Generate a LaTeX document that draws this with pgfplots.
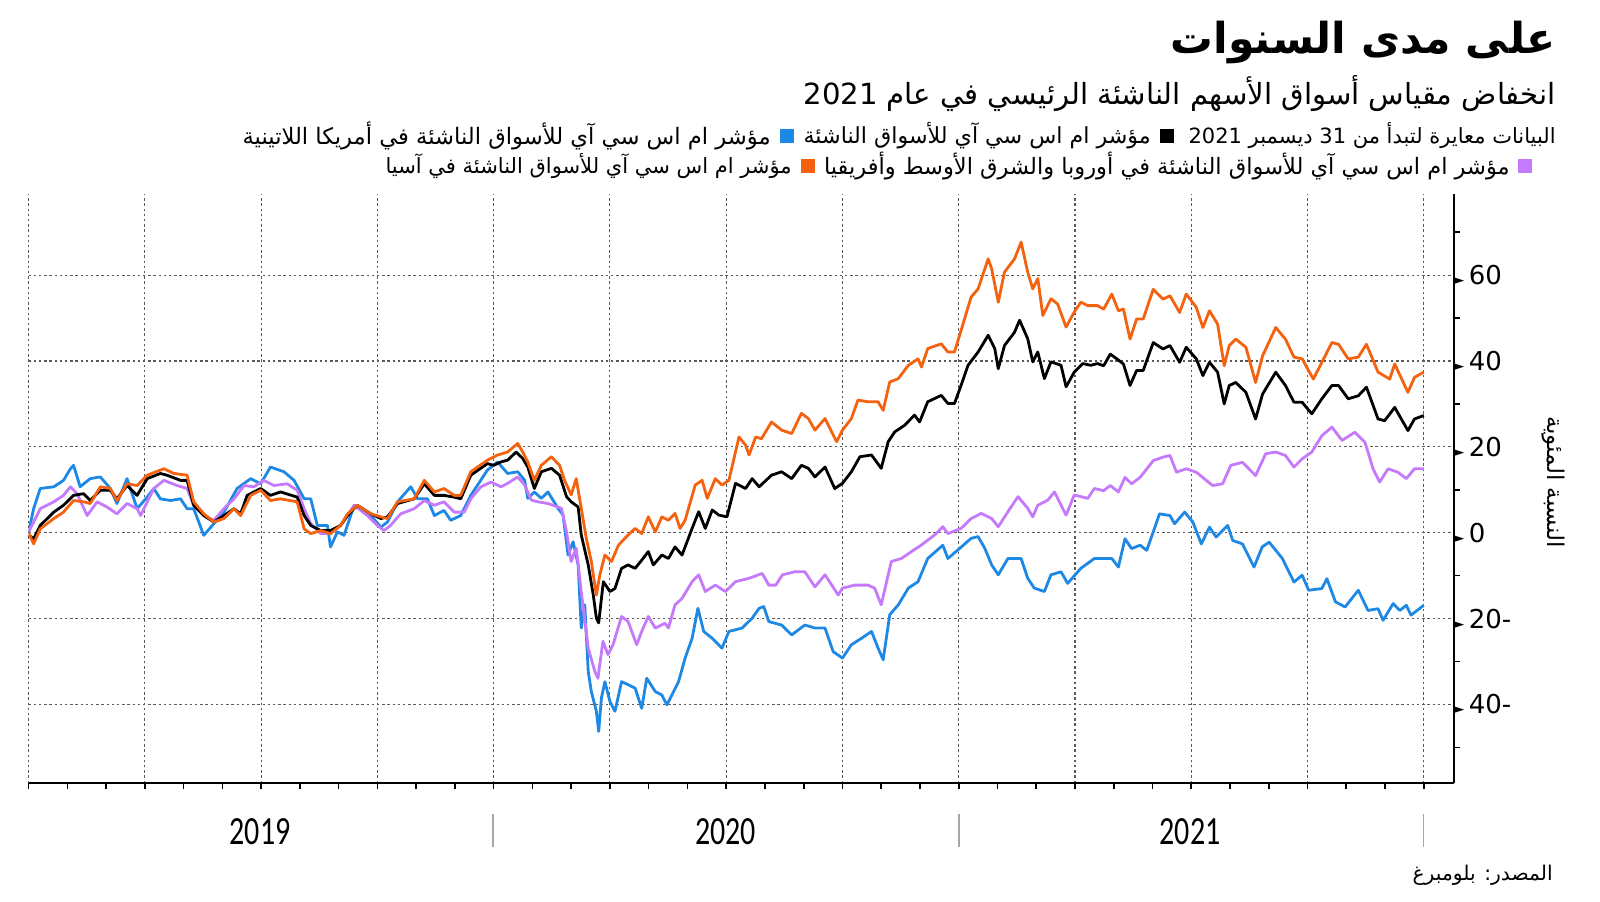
\documentclass[border=0pt]{standalone}
\usepackage{pgfplots}
\pgfplotsset{compat=1.18}
\usepackage{fontspec}
\setmainfont{DejaVu Sans}
\newfontfamily\arabicfont[Script=Arabic]{DejaVu Sans}
\newfontfamily\yearfont{Carlito}
\TeXXeTstate=1
\definecolor{latblue}{RGB}{30,136,229}
\definecolor{asiaorange}{RGB}{245,98,15}
\definecolor{emeapurple}{RGB}{196,122,250}
\definecolor{gridgray}{RGB}{90,90,90}
\newcommand\tri{{\fontsize{6.5}{6.5}\selectfont ►}}
\newcommand\legfont{\fontsize{11.5}{11.5}\arabicfont}

\begin{document}
\begin{tikzpicture}
\path[use as bounding box] (0,0) rectangle (800pt,450.5pt);
\begin{axis}[
  at={(14.3pt,59pt)}, anchor=south west,
  width=712.7pt, height=294.5pt, scale only axis,
  xmin=0, xmax=36.78, ymin=-58.3, ymax=78.9,
  axis x line=bottom, axis y line=right,
  axis line style={-, line width=0.8pt},
  xtick={0,3,...,36}, xticklabels={},
  minor x tick num=2,
  ytick={-40,-20,0,20,40,60},
  yticklabels={{\tri\,40-},{\tri\,20-},{\tri\,0},{\tri\,20},{\tri\,40},{\tri\,60}},
  minor ytick={-50,-30,-10,10,30,50,70},
  tick align=outside,
  major tick length=3pt, minor tick length=3pt,
  every major y tick/.append style={draw=none},
  tick style={black, line width=0.8pt},
  xmajorgrids, ymajorgrids,
  major grid style={gridgray, line width=0.55pt, dash pattern=on 1.2pt off 1.4pt},
  yticklabel style={anchor=west, inner sep=0pt, xshift=-3pt, font=\fontsize{13}{13}\selectfont},
  every axis plot/.append style={line width=1.4pt, line join=round},
]
\addplot[latblue] coordinates {
(0,0.2)(0.13,5.6)(0.30,10.3)(0.65,10.7)(0.90,12.2)(1.08,14.9)(1.16,15.7)(1.33,10.7)(1.59,12.6)(1.85,13)(2.11,10.3)(2.28,6.8)(2.54,12.6)(2.80,5.6)(3.06,8.3)(3.23,10.3)(3.40,7.9)(3.66,7.5)(3.92,7.9)(4.09,5.6)(4.26,5.6)(4.52,-0.6)(4.78,2.1)(5.04,4.8)(5.38,10.3)(5.73,12.6)(5.99,11.4)(6.24,15.3)(6.59,14.2)(6.85,12.2)(7.11,7.9)(7.28,7.9)(7.45,1.7)(7.71,1.7)(7.79,-3.3)(7.97,0.2)(8.14,-0.6)(8.40,6.4)(8.83,4)(9.09,1.3)(9.26,2.5)(9.52,7.2)(9.86,10.7)(10.04,7.9)(10.29,7.9)(10.47,4)(10.72,5.2)(10.89,2.9)(11.15,4)(11.41,8.7)(11.84,14.6)(12.1,16.5)(12.36,13.8)(12.62,14.2)(12.8,12.2)(12.88,8)(13.05,9.5)(13.23,8)(13.4,9.5)(13.66,5.7)(13.79,4.1)(13.92,-5.2)(14.05,-2.1)(14.18,-7.5)(14.26,-22.2)(14.35,-16.8)(14.44,-32.3)(14.52,-37)(14.65,-41.6)(14.71,-46.3)(14.78,-38.5)(14.87,-34.7)(15.0,-39.3)(15.13,-41.6)(15.3,-34.7)(15.47,-35.4)(15.65,-36.2)(15.82,-40.9)(15.95,-33.9)(16.17,-37)(16.34,-37.8)(16.47,-40.1)(16.6,-37.8)(16.77,-34.7)(16.94,-29.2)(17.12,-24.6)(17.27,-17.6)(17.42,-23)(17.64,-24.6)(17.89,-26.9)(18.07,-23)(18.41,-22.2)(18.67,-19.9)(18.85,-17.6)(18.97,-17.2)(19.1,-20.7)(19.43,-21.5)(19.69,-23.8)(20.03,-21.5)(20.29,-22.2)(20.55,-22.2)(20.76,-27.7)(21.0,-29.2)(21.23,-26.1)(21.49,-24.6)(21.75,-23)(21.92,-26.9)(22.05,-29.6)(22.22,-19.1)(22.44,-16.8)(22.7,-12.9)(22.95,-11.4)(23.2,-6)(23.59,-2.9)(23.72,-6)(23.98,-4)(24.32,-1.3)(24.5,-0.9)(24.67,-3.6)(24.85,-7.5)(25.02,-9.8)(25.27,-6)(25.61,-6)(25.78,-10.6)(25.95,-12.9)(26.21,-13.7)(26.38,-9.8)(26.64,-9.1)(26.81,-11.8)(27.15,-8.3)(27.5,-6)(27.74,-6)(27.95,-6)(28.12,-8)(28.29,-1.4)(28.46,-3.7)(28.68,-2.9)(28.85,-4.1)(29.02,0.2)(29.18,4.4)(29.45,4)(29.57,2.1)(29.83,4.8)(30.04,2.5)(30.26,-2.6)(30.47,1.3)(30.64,-1)(30.94,1.7)(31.07,-1.8)(31.32,-2.6)(31.62,-8)(31.83,-3.3)(32.01,-2.2)(32.35,-6)(32.65,-11.5)(32.86,-9.9)(33.03,-13.4)(33.37,-13)(33.5,-10.7)(33.72,-16.1)(33.97,-17.3)(34.31,-13.4)(34.56,-18.1)(34.82,-17.7)(34.95,-20.4)(35.21,-16.5)(35.38,-18.1)(35.55,-16.9)(35.67,-19.2)(36.0,-16.9)
};
\addplot[emeapurple] coordinates {
(0,0.2)(0.13,2.5)(0.30,5.6)(0.65,7.2)(0.90,8.7)(1.08,10.7)(1.25,9.1)(1.51,4)(1.77,7.2)(2.02,6)(2.28,4.4)(2.54,6.8)(2.80,5.6)(2.89,4)(3.23,10.3)(3.49,12.2)(3.83,11)(4.09,10.3)(4.26,6.4)(4.52,4)(4.78,2.9)(5.04,5.6)(5.30,7.9)(5.56,11)(5.81,10.7)(6.07,12.2)(6.33,11)(6.67,11.4)(6.93,9.9)(7.11,5.6)(7.28,2.1)(7.54,-0.2)(7.79,-0.2)(8.05,1.7)(8.40,6.4)(8.74,4)(9.0,1.7)(9.17,0.5)(9.34,1.7)(9.6,4.4)(9.95,5.6)(10.21,7.5)(10.47,6.4)(10.72,7.2)(10.98,4.8)(11.24,4.8)(11.41,7.9)(11.67,10.7)(11.93,11.8)(12.19,10.7)(12.36,11.5)(12.62,13)(12.8,11.1)(12.97,7.6)(13.14,7.2)(13.4,6.8)(13.75,5.7)(13.88,0.2)(14.0,-6.7)(14.13,-3.6)(14.26,-13.7)(14.44,-26.9)(14.61,-32.3)(14.69,-33.9)(14.82,-25.3)(14.95,-28.4)(15.08,-26.1)(15.3,-19.5)(15.47,-20.7)(15.69,-26.1)(15.82,-23)(15.99,-19.5)(16.17,-22.2)(16.42,-21.1)(16.51,-22.2)(16.68,-16.8)(16.86,-15.3)(17.12,-11.4)(17.29,-9.8)(17.46,-13.7)(17.72,-12.2)(17.98,-13.7)(18.24,-11.4)(18.59,-10.6)(18.93,-9.5)(19.1,-12.2)(19.28,-12.2)(19.45,-9.8)(19.77,-9.1)(20.03,-9.1)(20.29,-12.6)(20.55,-9.8)(20.89,-14.5)(21.0,-12.9)(21.32,-12.2)(21.66,-12.2)(21.83,-12.9)(22.0,-16.8)(22.26,-6.7)(22.52,-6)(22.78,-4.4)(23.03,-2.9)(23.38,-0.5)(23.59,1.4)(23.72,-0.2)(24.06,1)(24.32,3.3)(24.58,4.5)(24.85,3.3)(25.02,1.4)(25.27,4.9)(25.53,8.4)(25.78,5.7)(25.91,3.7)(26.04,6.4)(26.3,7.6)(26.47,9.5)(26.77,4.1)(26.98,8.8)(27.33,8)(27.5,10.3)(27.74,9.8)(27.91,11)(28.12,9.5)(28.29,12.9)(28.46,11.4)(28.68,12.9)(29.02,16.8)(29.27,17.6)(29.45,18)(29.62,14.1)(29.87,14.9)(30.13,14.1)(30.55,11)(30.81,11.4)(31.02,15.7)(31.32,16.4)(31.66,13.3)(31.92,18.4)(32.18,18.8)(32.43,18)(32.65,15.3)(32.86,17.2)(33.11,18.8)(33.37,22.6)(33.63,24.6)(33.89,21.5)(34.22,23.4)(34.48,21.1)(34.56,18.8)(34.69,14.9)(34.86,11.8)(35.08,14.9)(35.33,14.1)(35.55,12.6)(35.76,14.9)(36.0,14.9)
};
\addplot[black] coordinates {
(0,-0.5)(0.13,-1.4)(0.30,1.7)(0.65,4.8)(0.90,6.4)(1.16,8.7)(1.42,9.1)(1.59,7.5)(1.85,9.9)(2.11,9.9)(2.28,7.9)(2.54,11.0)(2.80,8.7)(3.06,12.6)(3.40,13.8)(3.57,13.4)(3.92,12.2)(4.09,12.2)(4.26,6.4)(4.52,4.0)(4.78,2.5)(5.04,4.0)(5.30,5.6)(5.47,4.4)(5.64,8.7)(5.99,10.3)(6.24,8.7)(6.50,9.5)(6.93,8.3)(7.11,4.0)(7.28,1.7)(7.54,0.5)(7.79,0.5)(8.05,1.7)(8.23,4.0)(8.48,6.4)(8.83,4.4)(9.09,3.3)(9.26,3.7)(9.52,6.8)(9.95,7.9)(10.21,11.4)(10.47,8.7)(10.72,8.7)(10.98,8.3)(11.15,7.9)(11.41,13.4)(11.84,16.1)(12.0,15.7)(12.19,16.5)(12.36,16.9)(12.58,18.8)(12.75,17.3)(12.88,15.3)(13.05,10.3)(13.23,14.2)(13.49,15)(13.70,13.4)(13.88,8.4)(14.0,7.2)(14.18,6)(14.26,-0.5)(14.44,-7.5)(14.57,-14.5)(14.65,-19.9)(14.71,-21)(14.83,-11.4)(15.0,-13.7)(15.13,-13)(15.3,-8.3)(15.47,-7.5)(15.65,-8.3)(15.82,-6.4)(15.99,-4.4)(16.12,-7.5)(16.34,-5.2)(16.51,-6)(16.68,-3.3)(16.86,-5.2)(17.12,1)(17.29,4.9)(17.46,1)(17.64,5.3)(17.81,4.1)(18.02,3.7)(18.24,11.5)(18.5,10.3)(18.67,12.6)(18.85,10.7)(19.17,13.4)(19.43,14.2)(19.69,12.6)(19.94,15.7)(20.12,15)(20.29,13)(20.55,15.3)(20.8,10.3)(21.0,11.5)(21.23,14.2)(21.45,17.7)(21.75,18.1)(22.0,15)(22.18,21.2)(22.35,23.5)(22.6,25)(22.86,27.4)(22.99,25.8)(23.2,30.5)(23.55,32)(23.72,30.1)(23.89,30.1)(24.06,34.3)(24.24,39)(24.5,42.1)(24.76,46)(24.93,42.9)(25.02,38.2)(25.18,43.6)(25.44,46.7)(25.57,49.5)(25.78,45.2)(25.91,39.8)(26.04,42.1)(26.21,35.9)(26.38,39.8)(26.64,39)(26.77,34)(26.98,37.4)(27.2,39.4)(27.41,39)(27.58,39.4)(27.74,38.9)(27.91,41.6)(28.08,40.5)(28.25,39.3)(28.42,34.3)(28.59,37.8)(28.76,37.8)(29.02,44.3)(29.27,42.8)(29.45,43.6)(29.7,39.7)(29.87,43.2)(30.13,40.5)(30.3,36.6)(30.47,39.7)(30.68,37.4)(30.85,30)(30.98,34.3)(31.15,35)(31.41,32.7)(31.66,26.5)(31.84,32.3)(32.18,37.4)(32.43,34.3)(32.65,30.4)(32.86,30.4)(33.11,27.7)(33.37,31.2)(33.63,34.3)(33.8,34.3)(34.05,31.2)(34.31,31.9)(34.52,33.9)(34.82,26.5)(34.99,26.1)(35.25,29.2)(35.59,23.8)(35.76,26.5)(36.0,27.3)
};
\addplot[asiaorange] coordinates {
(0,0)(0.13,-2.6)(0.30,0.9)(0.65,3.3)(0.90,4.8)(1.16,7.5)(1.42,7.2)(1.59,6.8)(1.85,10.7)(2.11,10.3)(2.28,7.5)(2.54,11.4)(2.80,11)(3.06,13.4)(3.49,14.9)(3.75,13.8)(4.09,13.4)(4.26,7.2)(4.52,4.4)(4.78,2.5)(5.04,3.3)(5.30,5.6)(5.47,4)(5.73,8.7)(5.99,9.9)(6.24,7.5)(6.50,7.9)(6.93,7.2)(7.11,0.9)(7.28,-0.2)(7.54,0.5)(7.79,-0.2)(8.05,1.7)(8.23,4.4)(8.48,6.4)(8.83,4.4)(9.09,3.7)(9.26,3.3)(9.52,7.2)(9.95,7.9)(10.21,12.2)(10.47,9.5)(10.72,10.3)(10.98,8.7)(11.15,8.7)(11.41,14.2)(11.84,16.9)(12.1,18.1)(12.36,18.8)(12.62,20.8)(12.75,18.8)(12.88,16.5)(13.05,12.2)(13.23,15.7)(13.49,17.7)(13.70,15.7)(13.83,12.2)(14.0,8.8)(14.13,12.6)(14.26,5.7)(14.39,-1.3)(14.52,-6.7)(14.65,-14.5)(14.74,-9.8)(14.87,-5.2)(15.04,-6.7)(15.22,-2.9)(15.47,-0.5)(15.65,1)(15.82,-0.2)(15.99,3.7)(16.17,0.2)(16.34,3.7)(16.51,2.9)(16.68,4.5)(16.81,1)(16.94,2.9)(17.2,11.1)(17.38,12.2)(17.51,8)(17.72,12.6)(17.89,11.1)(18.07,12.2)(18.33,22.3)(18.5,20.4)(18.59,18.1)(18.76,22.3)(18.91,21.9)(19.17,25.8)(19.43,23.9)(19.69,23.1)(19.94,27.8)(20.12,26.6)(20.29,23.9)(20.55,26.6)(20.85,21.2)(21.0,23.9)(21.23,26.6)(21.4,30.9)(21.66,30.5)(21.92,30.5)(22.05,28.5)(22.22,35.1)(22.44,35.9)(22.7,39)(22.95,40.5)(23.04,38.6)(23.2,42.9)(23.55,44)(23.72,42.1)(23.89,42.1)(24.06,47.1)(24.32,54.9)(24.5,56.8)(24.76,63.8)(24.85,61.5)(25.02,53.7)(25.18,60.7)(25.44,63.8)(25.61,67.7)(25.78,60.7)(25.91,56.8)(26.04,59.2)(26.17,50.6)(26.38,54.5)(26.55,53.3)(26.77,47.9)(26.98,51.4)(27.15,53.7)(27.33,52.9)(27.58,52.9)(27.74,52.1)(27.95,55.6)(28.12,51.7)(28.25,52.1)(28.42,45.1)(28.59,49.8)(28.76,49.8)(29.02,56.7)(29.27,54.4)(29.45,55.2)(29.7,51.3)(29.87,55.6)(30.13,52.5)(30.3,47.8)(30.47,51.7)(30.68,48.6)(30.85,38.9)(30.98,43.6)(31.15,45.1)(31.41,43.2)(31.66,35)(31.84,41.2)(32.18,47.8)(32.43,45.1)(32.65,40.9)(32.86,40.5)(33.15,35.8)(33.37,39.7)(33.63,44.3)(33.8,43.9)(34.05,40.5)(34.31,40.9)(34.52,43.9)(34.82,37.4)(35.12,35.8)(35.25,39.3)(35.59,32.7)(35.76,36.2)(36.0,37.4)
};
\end{axis}

% title, subtitle
\node[anchor=east, inner sep=0pt] at (778pt,429pt)
  {\resizebox{192.5pt}{!}{\arabicfont\bfseries\beginR على مدى السنوات\endR}};
\node[anchor=east, inner sep=0pt] at (778pt,403.5pt)
  {\resizebox{376pt}{!}{\arabicfont\beginR انخفاض مقياس أسواق الأسهم الناشئة الرئيسي في عام 2021\endR}};

% legend
\begin{scope}[every node/.style={inner sep=0pt}]
\node[anchor=east] at (778pt,382.5pt)
  {\resizebox{183.5pt}{!}{\legfont\beginR البيانات معايرة لتبدأ من 31 ديسمبر 2021\endR}};
\fill[black] (580pt,379pt) rectangle +(7pt,7pt);
\node[anchor=east] at (575.5pt,382.5pt)
  {\resizebox{173.5pt}{!}{\legfont\beginR مؤشر ام اس سي آي للأسواق الناشئة\endR}};
\fill[latblue] (390pt,379pt) rectangle +(7pt,7pt);
\node[anchor=east] at (385.5pt,382.5pt)
  {\resizebox{264pt}{!}{\legfont\beginR مؤشر ام اس سي آي للأسواق الناشئة في أمريكا اللاتينية\endR}};
\fill[emeapurple] (759pt,364pt) rectangle +(7pt,7pt);
\node[anchor=east] at (755pt,367.5pt)
  {\resizebox{342.8pt}{!}{\legfont\beginR مؤشر ام اس سي آي للأسواق الناشئة في أوروبا والشرق الأوسط وأفريقيا\endR}};
\fill[asiaorange] (400.5pt,364pt) rectangle +(7pt,7pt);
\node[anchor=east] at (396pt,367.5pt)
  {\resizebox{203pt}{!}{\legfont\beginR مؤشر ام اس سي آي للأسواق الناشئة في آسيا\endR}};
% y label and source
\node[rotate=-90] at (776.5pt,209.5pt) {\legfont\beginR النسبة المئوية\endR};
\node[anchor=east] at (776.5pt,13pt)
  {\resizebox{70pt}{!}{\legfont\beginR المصدر: بلومبرغ\endR}};
\end{scope}

% year labels and separators
\foreach \xx in {246.5,479.5,711.75}
  \draw[gray!70, line width=0.6pt] (\xx pt,43.5pt) -- (\xx pt,27pt);
\foreach \xx/\yr in {130/2019,362.75/2020,595/2021}
  \node at (\xx pt,34.5pt) {\scalebox{0.75}[1]{\fontsize{20}{20}\yearfont \yr}};
\end{tikzpicture}
\end{document}
